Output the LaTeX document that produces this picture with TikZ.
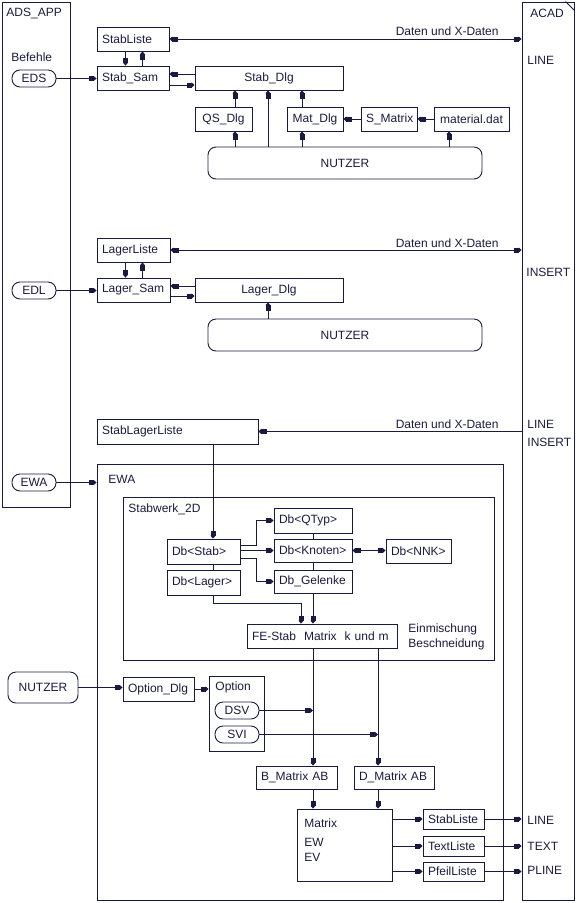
\documentclass[tikz,border=0pt]{standalone}
\usepackage{fontspec}
\setmainfont{Liberation Sans}
\usetikzlibrary{arrows.meta}
\definecolor{ink}{RGB}{26,26,64}
\newcommand{\BX}[7]{%
  \pgfmathsetmacro{\mw}{#5-#3}\pgfmathsetmacro{\mh}{#6-#4}%
  \pgfmathsetmacro{\mtw}{#5-#3-10}%
  \pgfmathsetmacro{\mx}{(#3+#5)/2}\pgfmathsetmacro{\my}{(#4+#6)/2}%
  \node[#1, minimum width=\mw pt, minimum height=\mh pt, text width=\mtw pt] (#2) at (\mx,\my) {#7};}
\tikzset{
  blk/.tip={Rectangle[length=5pt,width=5pt] Triangle[length=3pt,width=5pt]},
  arr/.style={-{blk}},
  arrb/.style={{blk}-{blk}},
  boxl/.style={draw, inner xsep=5pt, inner ysep=0pt, align=left},
  boxc/.style={draw, inner xsep=5pt, inner ysep=0pt, align=center},
  rbox/.style={draw, rounded corners=8pt, inner xsep=5pt, inner ysep=0pt, align=center},
  lbl/.style={anchor=west, inner sep=0pt},
}
\begin{document}
\begin{tikzpicture}[x=1pt,y=-1pt,line width=0.9pt,color=ink,font=\fontsize{12}{14}\selectfont]
\useasboundingbox (0,0) rectangle (576,903);
% helper coordinates
\coordinate (x125) at (125.5,0); \coordinate (x142) at (142.5,0);
\coordinate (x235) at (235,0); \coordinate (x268) at (268,0);
\coordinate (x302) at (302,0); \coordinate (x449) at (449,0);
\coordinate (x213) at (213,0); \coordinate (x256) at (256,0);
\coordinate (x301) at (301,0); \coordinate (x313) at (313,0);
\coordinate (x378) at (378,0);
\coordinate (y74) at (0,74); \coordinate (y85) at (0,85);
\coordinate (y287) at (0,286); \coordinate (y296) at (0,296);
\coordinate (y545) at (0,545); \coordinate (y558) at (0,558);
\coordinate (y603) at (0,603);
% containers
\BX{boxl}{ads}{2}{2}{70}{507}{}
\BX{boxl}{acad}{522}{2}{574}{900}{}
\draw ([xshift=-9pt]acad.north east) -- ([yshift=-9pt]acad.north east);
\BX{boxl}{ewa}{97}{464}{503}{900}{}
\BX{boxl}{sw}{123}{497}{494}{660}{}
% labels
\node[lbl] (tads) at (6,13) {ADS\_APP};
\node[lbl] (tbef) at (11,57) {Befehle};
\node[lbl] (tacad) at (530,13) {ACAD};
\node[lbl] (tline1) at (527,60) {LINE};
\node[lbl] (tins1) at (526,272) {INSERT};
\node[lbl] (tline2) at (527,424) {LINE};
\node[lbl] (tins2) at (527,442) {INSERT};
\node[lbl] (tline3) at (527,820) {LINE};
\node[lbl] (ttext) at (527,846) {TEXT};
\node[lbl] (tpline) at (527,870) {PLINE};
\node[lbl] (tewa) at (108,479) {EWA};
\node[lbl] (tsw) at (128,509) {Stabwerk\_2D};
\node[lbl] (tein) at (408,629) {Einmischung};
\node[lbl] (tbes) at (408,644) {Beschneidung};
\node[anchor=east, inner sep=0pt] (dx1) at (499,31) {Daten und X-Daten};
\node[anchor=east, inner sep=0pt] (dx2) at (499,243) {Daten und X-Daten};
\node[anchor=east, inner sep=0pt] (dx3) at (499,424) {Daten und X-Daten};
% top section
\BX{rbox}{eds}{12}{70}{56}{87}{EDS}
\BX{boxl}{stabliste}{97}{27}{169}{51}{StabListe}
\BX{boxl}{stabsam}{97}{66}{169}{90}{Stab\_Sam}
\BX{boxc}{stabdlg}{195}{66}{343}{90}{Stab\_Dlg}
\BX{boxc}{qsdlg}{195}{107}{252}{131}{QS\_Dlg}
\BX{boxc}{matdlg}{287}{107}{343}{131}{Mat\_Dlg}
\BX{boxc}{smatrix}{361}{107}{417}{131}{S\_Matrix}
\BX{boxc}{matdat}{434}{107}{509}{131}{material.dat}
\BX{rbox}{nutzer1}{208}{147}{482}{179}{NUTZER}
% middle section
\BX{rbox}{edl}{12}{282}{56}{299}{EDL}
\BX{boxl}{lagerliste}{97}{238}{170}{262}{LagerListe}
\BX{boxl}{lagersam}{97}{278}{170}{302}{Lager\_Sam}
\BX{boxc}{lagerdlg}{195}{278}{343}{302}{Lager\_Dlg}
\BX{rbox}{nutzer2}{208}{319}{482}{351}{NUTZER}
% lower section
\BX{boxl}{sll}{97}{419}{258}{444}{StabLagerListe}
\BX{rbox}{ewaoval}{12}{474}{56}{491}{EWA}
\BX{boxl}{dbstab}{167}{539}{240}{564}{Db<Stab>}
\BX{boxl}{dblager}{167}{570}{240}{595}{Db<Lager>}
\BX{boxl}{dbqtyp}{274}{508}{352}{533}{Db<QTyp>}
\BX{boxl}{dbknoten}{274}{539}{352}{562}{Db<Knoten>}
\BX{boxl}{dbgel}{274}{570}{352}{593}{Db\_Gelenke}
\BX{boxl}{dbnnk}{386}{539}{451}{563}{Db<NNK>}
\BX{boxl}{fe}{247}{624}{397}{648}{FE-Stab~~Matrix~~k und m}
\BX{rbox}{nutzer3}{8}{672}{78}{703}{NUTZER}
\BX{boxl}{optdlg}{123}{677}{194}{701}{Option\_Dlg}
\BX{boxl}{optbox}{209}{676}{264}{751}{}
\node[lbl] (topt) at (215,687) {Option};
\BX{rbox}{dsv}{215}{702}{259}{719}{DSV}
\BX{rbox}{svi}{215}{726}{259}{743}{SVI}
\BX{boxl}{bmat}{256}{766}{337}{789}{B\_Matrix AB}
\BX{boxl}{dmat}{354}{766}{434}{789}{D\_Matrix AB}
\BX{boxl}{matrix}{297}{809}{392}{881}{}
\node[lbl] (tmat) at (304,823) {Matrix};
\node[lbl] (tew) at (304,842) {EW};
\node[lbl] (tev) at (304,857) {EV};
\BX{boxl}{sl2}{423}{809}{484}{829}{StabListe}
\BX{boxl}{tl}{423}{836}{484}{856}{TextListe}
\BX{boxl}{pl}{423}{862}{484}{881}{PfeilListe}
% connectors top
\draw[arr] (eds.east) -- (eds.east -| stabsam.west);
\draw[arrb] (stabliste.east) -- (stabliste.east -| acad.west);
\draw[arr] (stabliste.south -| x125) -- (stabsam.north -| x125);
\draw[arr] (stabsam.north -| x142) -- (stabliste.south -| x142);
\draw[arr] (stabdlg.west |- y74) -- (stabsam.east |- y74);
\draw[arr] (stabsam.east |- y85) -- (stabdlg.west |- y85);
\draw[arr] (qsdlg.north -| x235) -- (stabdlg.south -| x235);
\draw[arr] (nutzer1.north -| x235) -- (qsdlg.south -| x235);
\draw[arr] (nutzer1.north -| x268) -- (stabdlg.south -| x268);
\draw[arr] (matdlg.north -| x302) -- (stabdlg.south -| x302);
\draw[arr] (nutzer1.north -| x302) -- (matdlg.south -| x302);
\draw[arr] (smatrix.west) -- (matdlg.east);
\draw[arr] (matdat.west) -- (smatrix.east);
\draw[arr] (nutzer1.north -| x449) -- (matdat.south -| x449);
% connectors middle
\draw[arr] (edl.east) -- (edl.east -| lagersam.west);
\draw[arrb] (lagerliste.east) -- (lagerliste.east -| acad.west);
\draw[arr] (lagerliste.south -| x125) -- (lagersam.north -| x125);
\draw[arr] (lagersam.north -| x142) -- (lagerliste.south -| x142);
\draw[arr] (lagerdlg.west |- y287) -- (lagersam.east |- y287);
\draw[arr] (lagersam.east |- y296) -- (lagerdlg.west |- y296);
\draw[arr] (nutzer2.north -| x268) -- (lagerdlg.south -| x268);
% connectors lower
\draw[arr] (sll.east -| acad.west) -- (sll.east);
\draw[arr] (ewaoval.east) -- (ewaoval.east -| ewa.west);
\draw[arr] (sll.south -| x213) -- (dbstab.north -| x213);
\draw (dbstab.south -| x213) -- (dblager.north -| x213);
\draw[arr] (dbstab.east |- y545) -| (x256 |- dbqtyp.west) -- (dbqtyp.west);
\draw[arr] (dbstab.east |- dbknoten.west) -- (dbknoten.west);
\draw[arr] (dbstab.east |- y558) -| (x256 |- dbgel.west) -- (dbgel.west);
\draw (dbqtyp.south -| x313) -- (dbknoten.north -| x313);
\draw (dbknoten.south -| x313) -- (dbgel.north -| x313);
\draw[arrb] (dbknoten.east) -- (dbknoten.east -| dbnnk.west);
\draw[arr] (dblager.south -| x213) |- (x301 |- y603) -- (fe.north -| x301);
\draw[arr] (dbgel.south -| x313) -- (fe.north -| x313);
\draw[arr] (fe.south -| x313) -- (bmat.north -| x313);
\draw[arr] (fe.south -| x378) -- (dmat.north -| x378);
\draw[arr] (nutzer3.east) -- (nutzer3.east -| optdlg.west);
\draw[arr] (optdlg.east) -- (optdlg.east -| optbox.west);
\draw[arr] (dsv.east) -- (dsv.east -| x313);
\draw[arr] (svi.east) -- (svi.east -| x378);
\draw[arr] (bmat.south -| x313) -- (matrix.north -| x313);
\draw[arr] (dmat.south -| x378) -- (matrix.north -| x378);
\draw[arr] (matrix.east |- sl2.west) -- (sl2.west);
\draw[arr] (matrix.east |- tl.west) -- (tl.west);
\draw[arr] (matrix.east |- pl.west) -- (pl.west);
\draw[arr] (sl2.east) -- (sl2.east -| acad.west);
\draw[arr] (tl.east) -- (tl.east -| acad.west);
\draw[arr] (pl.east) -- (pl.east -| acad.west);
\end{tikzpicture}
\end{document}
